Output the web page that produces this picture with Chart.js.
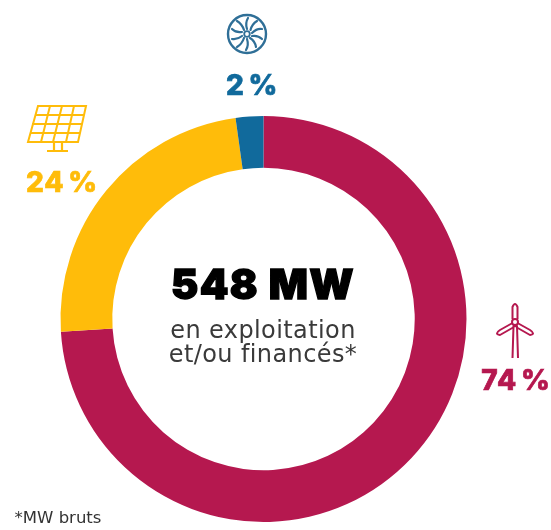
<!DOCTYPE html>
<html lang="fr"><head><meta charset="utf-8">
<script src="https://cdn.jsdelivr.net/npm/chart.js@4"></script>
<style>
html,body{margin:0;padding:0;background:#fff;width:551px;height:530px;overflow:hidden}
#wrap{position:relative;width:551px;height:530px;font-family:Inter,"Open Sans",sans-serif;filter:blur(.5px)}
canvas{position:absolute;left:0;top:0}
.t{position:absolute;white-space:nowrap;line-height:1;transform:translateX(-50%)}
.p{font-weight:800;font-size:28px;-webkit-text-stroke:.7px currentColor;word-spacing:-3px;letter-spacing:.8px}
.s{font-family:"DejaVu Sans",sans-serif}
svg{position:absolute;fill:none}
</style></head><body>
<div id="wrap">
<canvas id="c" width="551" height="530"></canvas>
<div class="t" style="left:263px;top:264px;font-size:41px;font-weight:900;color:#000;letter-spacing:1.4px;-webkit-text-stroke:1.3px #000">548 MW</div>
<div class="t s" style="left:263px;top:318px;font-size:24px;letter-spacing:.4px;color:#3a3a3a;line-height:24px;text-align:center">en exploitation<br>et/ou financés*</div>
<div class="t p" style="left:252px;top:71px;color:#116A9C">2 %</div>
<div class="t p" style="left:62px;top:168px;color:#FFBC0A">24 %</div>
<div class="t p" style="left:516px;top:366px;color:#B5184F">74 %</div>
<div class="t s" style="left:58px;top:510px;font-size:16.5px;color:#333">*MW bruts</div>
<svg style="left:222px;top:9px" width="50" height="50" viewBox="0 0 50 50" stroke="#2F6F97">
<circle cx="25" cy="25" r="19" stroke-width="2.4"/><circle cx="25" cy="25" r="2.8" stroke-width="1.8"/>
<g stroke-width="2.2" stroke-linecap="round">
<path d="M25 20Q23 14 26 9M28.5 21Q30 15 35 12M30 24Q35 19 40 20M30 27Q36 26 40 30M28 29Q33 32 34 38M25 30Q27 36 24 41M22 29Q20 35 15 38M20 27Q15 31 10 30M20 23Q14 24 10 20M22 21Q20 15 15 12"/></g></svg>
<svg style="left:24px;top:102px" width="66" height="52" viewBox="0 0 66 52" stroke="#FFBC0A" stroke-width="2">
<path d="M14 4H62L54 40H4Z"/><path d="M11 13H60M8 22H58M6 31H56M26 4L17 40M38 4L29 40M50 4L42 40"/>
<path d="M30 40V48M38 40V48M23 49H44" stroke-width="2.2"/></svg>
<svg style="left:489px;top:302px" width="50" height="60" viewBox="0 0 50 60" stroke="#B5184F" stroke-width="2" stroke-linejoin="round">
<path d="M23.5 56L24.5 24H28L29 56"/><circle cx="26" cy="20" r="3"/>
<path d="M23.5 17L23.5 5Q26 -1 28.5 5L28.5 17"/><path d="M28.5 21L41 28Q47 32 41 33L27 25"/><path d="M23.5 21L11 28Q5 32 11 33L25 25"/></svg>
</div>
<script>
const categories = ["Éolien", "Solaire", "Hydraulique"];
const shares = [74, 23.8, 2.2];
const colors = ["#B5184F", "#FFBC0A", "#116A9C"];
new Chart(document.getElementById("c"), {
  type: "doughnut",
  data: { labels: categories, datasets: [{ data: shares, backgroundColor: colors, borderWidth: 0 }] },
  options: {
    responsive: false, animation: false, cutout: "74.5%",
    layout: { padding: { left: 60, right: 84, top: 116, bottom: 8 } },
    plugins: { legend: { display: false }, tooltip: { enabled: false } }
  }
});
</script>
</body></html>
